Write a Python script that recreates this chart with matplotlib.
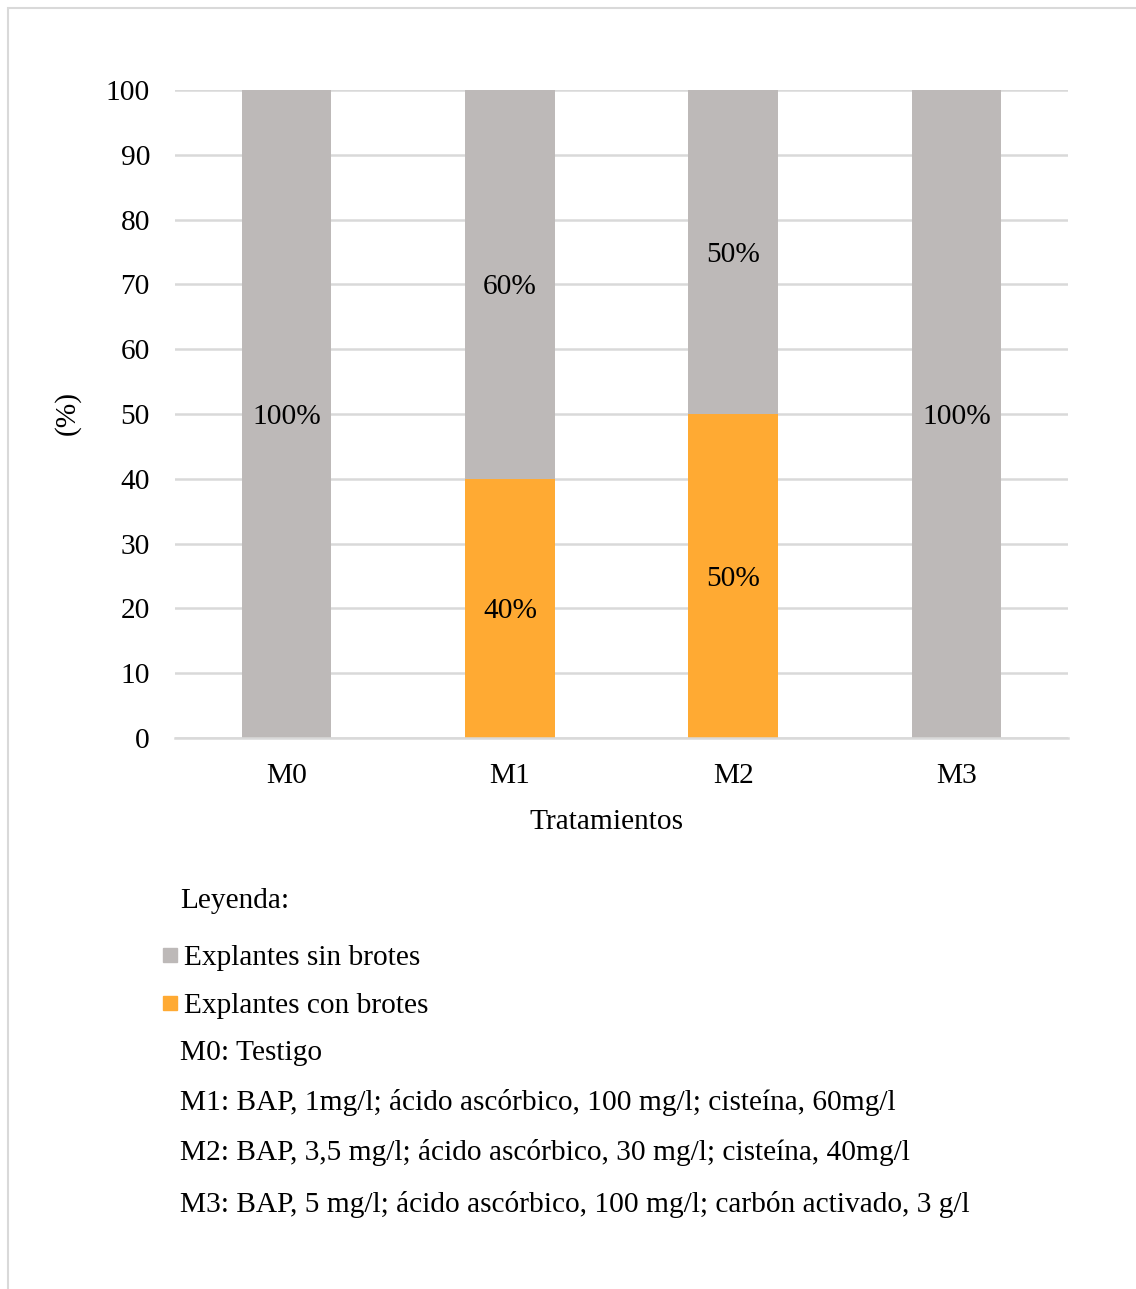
import matplotlib
matplotlib.use("Agg")
import matplotlib.pyplot as plt
from matplotlib.patches import Rectangle

plt.rcParams['font.family'] = ['Liberation Serif', 'DejaVu Serif']

categories = ["M0", "M1", "M2", "M3"]
con_brotes = [0, 40, 50, 0]
sin_brotes = [100, 60, 50, 100]
yticks = [0, 10, 20, 30, 40, 50, 60, 70, 80, 90, 100]
legend_notes = [
    "M0: Testigo",
    "M1: BAP, 1mg/l; ácido ascórbico, 100 mg/l; cisteína, 60mg/l",
    "M2: BAP, 3,5 mg/l; ácido ascórbico, 30 mg/l; cisteína, 40mg/l",
    "M3: BAP, 5 mg/l; ácido ascórbico, 100 mg/l; carbón activado, 3 g/l",
]

GRAY = "#BDB9B8"
ORANGE = "#FFAA33"
GRID = "#D9D9D9"
FS = 21.2

W, H = 1136, 1289
fig = plt.figure(figsize=(W / 100, H / 100), dpi=100)

# outer frame
fig.patches.append(Rectangle((8 / W, -0.01), 1.02, 1 - 8 / H + 0.01, transform=fig.transFigure,
                             fill=False, edgecolor=GRID, linewidth=1.5))

ax = fig.add_axes([175 / W, 1 - 738 / H, (1068 - 175) / W, (738 - 90) / H])
x = range(len(categories))
bw = 0.40
ax.bar(x, con_brotes, width=bw, color=ORANGE, zorder=3)
ax.bar(x, sin_brotes, width=bw, bottom=con_brotes, color=GRAY, zorder=3)

for i in x:
    if con_brotes[i] > 0:
        ax.text(i, con_brotes[i] / 2, f"{con_brotes[i]}%", ha="center", va="center_baseline",
                fontsize=FS, zorder=4)
    if sin_brotes[i] > 0:
        ax.text(i, con_brotes[i] + sin_brotes[i] / 2, f"{sin_brotes[i]}%", ha="center",
                va="center_baseline", fontsize=FS, zorder=4)

ax.set_xlim(-0.5, len(categories) - 0.5)
ax.set_ylim(0, 100)
ax.set_yticks(yticks)
ax.set_xticks(list(x))
ax.set_xticklabels(categories)
ax.tick_params(axis="both", length=0, labelsize=FS)
ax.tick_params(axis="y", pad=18)
ax.tick_params(axis="x", pad=18)
ax.grid(axis="y", color=GRID, linewidth=1.8, zorder=0)
for s in ["top", "right", "left"]:
    ax.spines[s].set_visible(False)
ax.spines["bottom"].set_color(GRID)
ax.spines["bottom"].set_linewidth(1.8)
ax.spines["bottom"].set_zorder(4)

fig.text(67 / W, 1 - 413 / H, "(%)", rotation=90, ha="center", va="center", fontsize=FS)
fig.text(606 / W, 1 - 819 / H, "Tratamientos", ha="center", va="center_baseline", fontsize=FS)

# legend block
fig.text(180 / W, 1 - 898 / H, "Leyenda:", ha="left", va="center_baseline", fontsize=FS)
for yy, col, lab in [(955, GRAY, "Explantes sin brotes"), (1003, ORANGE, "Explantes con brotes")]:
    fig.patches.append(Rectangle((163 / W, 1 - (yy + 7) / H), 14 / W, 14 / H,
                                 transform=fig.transFigure, color=col))
    fig.text(184 / W, 1 - yy / H, lab, ha="left", va="center_baseline", fontsize=FS)
for yy, note in zip([1050, 1100, 1150, 1201], legend_notes):
    fig.text(180 / W, 1 - yy / H, note, ha="left", va="center_baseline", fontsize=FS)

fig.savefig("out.png", dpi=100)
